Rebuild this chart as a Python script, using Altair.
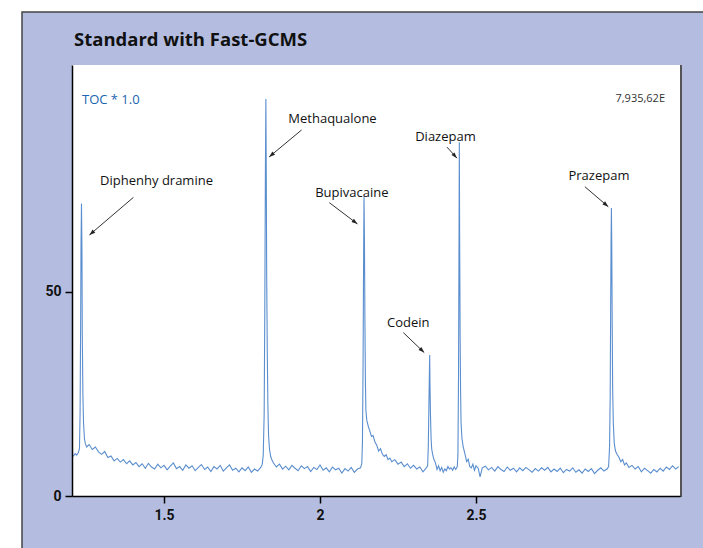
import math
import altair as alt
import pandas as pd

# ---------------- data ----------------
# chromatogram: retention time (min) and abundance (%)
rt_start = [1.205, 1.210, 1.215, 1.220, 1.225]
ab_start = [10.2, 9.8, 10.4, 10.0, 10.6]

rt_pk1 = [1.229, 1.231, 1.233, 1.234, 1.2355, 1.237, 1.238, 1.240, 1.242, 1.245, 1.248, 1.252]
ab_pk1 = [11.5, 20.0, 45.0, 62.0, 71.6, 60.0, 40.0, 25.0, 18.0, 14.0, 12.8, 12.0]

rt_base1 = [1.26, 1.27, 1.28, 1.29, 1.30, 1.31, 1.32, 1.33, 1.34, 1.35,
            1.36, 1.37, 1.38, 1.39, 1.40, 1.41, 1.42, 1.43, 1.44, 1.45,
            1.46, 1.47, 1.48, 1.49, 1.50, 1.51, 1.52, 1.53, 1.54, 1.55,
            1.56, 1.57, 1.58, 1.59, 1.60, 1.61, 1.62, 1.63, 1.64, 1.65,
            1.66, 1.67, 1.68, 1.69, 1.70, 1.71, 1.72, 1.73, 1.74, 1.75,
            1.76, 1.77, 1.78, 1.79, 1.80, 1.81]
ab_base1 = [12.6, 11.4, 12.0, 10.8, 10.2, 10.9, 9.4, 9.8, 8.6, 9.2,
            8.3, 8.9, 7.9, 8.6, 7.6, 8.2, 7.2, 7.9, 6.8, 8.0,
            7.1, 6.6, 7.8, 6.9, 7.5, 6.4, 7.3, 8.1, 6.7, 7.2,
            6.3, 7.6, 6.8, 7.4, 6.2, 7.0, 7.7, 6.5, 7.1, 6.0,
            7.2, 6.6, 7.5, 6.1, 6.9, 7.6, 6.3, 6.8, 5.9, 6.9,
            6.2, 7.1, 5.8, 6.6, 6.1, 7.0]

rt_pk2 = [1.815, 1.818, 1.821, 1.823, 1.825, 1.8265, 1.828, 1.829, 1.831, 1.833, 1.835, 1.838, 1.842, 1.846]
ab_pk2 = [7.8, 10.0, 20.0, 45.0, 80.0, 97.2, 75.0, 55.0, 35.0, 22.0, 15.0, 11.5, 9.6, 8.8]

rt_base2 = [1.85, 1.86, 1.87, 1.88, 1.89, 1.90, 1.91, 1.92, 1.93, 1.94,
            1.95, 1.96, 1.97, 1.98, 1.99, 2.00, 2.01, 2.02, 2.03, 2.04,
            2.05, 2.06, 2.07, 2.08, 2.09, 2.10, 2.11, 2.12, 2.13]
ab_base2 = [8.2, 7.1, 7.8, 6.6, 7.3, 6.4, 7.5, 6.8, 6.2, 7.4,
            6.7, 7.2, 6.0, 7.0, 6.5, 7.6, 6.3, 6.9, 5.9, 7.1,
            6.4, 6.8, 5.6, 6.7, 6.1, 7.0, 5.8, 6.6, 6.9]

rt_pk3 = [2.134, 2.136, 2.138, 2.1395, 2.141, 2.1425, 2.144, 2.1455, 2.147, 2.150, 2.155, 2.160,
          2.165, 2.170, 2.176, 2.182, 2.188, 2.194, 2.200, 2.206, 2.212, 2.218, 2.224]
ab_pk3 = [8.0, 13.0, 32.0, 55.0, 73.3, 62.0, 42.0, 28.0, 21.0, 18.5, 17.0, 15.8,
          14.6, 14.8, 13.2, 12.4, 11.0, 11.6, 10.2, 9.7, 10.1, 8.9, 9.3]

rt_base3 = [2.23, 2.24, 2.25, 2.26, 2.27, 2.28, 2.29, 2.30, 2.31, 2.32, 2.33, 2.34]
ab_base3 = [8.4, 8.9, 7.8, 8.3, 7.2, 7.9, 6.8, 7.5, 6.6, 7.1, 5.9, 6.8]

rt_pk4 = [2.345, 2.347, 2.349, 2.3505, 2.3515, 2.3525, 2.354, 2.356, 2.358, 2.361, 2.365, 2.370]
ab_pk4 = [7.4, 12.0, 22.0, 30.0, 34.5, 27.0, 20.0, 14.0, 11.5, 10.2, 9.0, 8.1]

rt_base4 = [2.375, 2.380, 2.385, 2.390, 2.395, 2.400, 2.405, 2.410, 2.415, 2.420, 2.425, 2.430, 2.435, 2.440]
ab_base4 = [6.5, 7.4, 6.2, 7.0, 5.8, 6.6, 6.2, 7.2, 6.6, 6.9, 6.3, 7.1, 6.5, 7.2]

rt_pk5 = [2.442, 2.444, 2.4455, 2.4465, 2.4475, 2.449, 2.4505, 2.452, 2.455, 2.459, 2.464]
ab_pk5 = [10.0, 30.0, 62.0, 86.6, 64.0, 40.0, 26.0, 18.0, 14.0, 12.0, 10.5]

rt_base5 = [2.470, 2.475, 2.480, 2.485, 2.490, 2.495, 2.500, 2.507, 2.513, 2.520,
            2.53, 2.54, 2.55, 2.56, 2.57, 2.58, 2.59, 2.60, 2.61, 2.62,
            2.63, 2.64, 2.65, 2.66, 2.67, 2.68, 2.69, 2.70, 2.71, 2.72,
            2.73, 2.74, 2.75, 2.76, 2.77, 2.78, 2.79, 2.80, 2.81, 2.82,
            2.83, 2.84, 2.85, 2.86, 2.87, 2.88, 2.89, 2.90, 2.91, 2.92]
ab_base5 = [8.4, 9.0, 7.2, 6.9, 7.8, 6.3, 7.4, 6.8, 4.7, 6.9,
            7.3, 6.4, 7.0, 6.1, 7.2, 6.5, 6.0, 7.1, 6.3, 6.8,
            5.9, 6.9, 6.2, 7.0, 6.4, 5.8, 6.7, 6.1, 6.9, 6.3,
            7.0, 5.9, 6.6, 6.0, 6.8, 5.7, 6.5, 6.1, 6.9, 5.8,
            6.4, 5.6, 6.6, 6.0, 6.7, 5.5, 6.3, 6.9, 6.1, 6.6]

rt_pk6 = [2.925, 2.928, 2.930, 2.9315, 2.933, 2.934, 2.935, 2.9365, 2.938, 2.940, 2.943, 2.947,
          2.952, 2.958, 2.964, 2.970, 2.976, 2.982]
ab_pk6 = [7.2, 12.0, 24.0, 45.0, 64.0, 70.5, 62.0, 42.0, 26.0, 18.0, 13.0, 11.0,
          10.2, 9.5, 8.4, 8.9, 7.6, 8.1]

rt_end = [2.99, 3.00, 3.01, 3.02, 3.03, 3.04, 3.05, 3.06, 3.07, 3.08,
          3.09, 3.10, 3.11, 3.12, 3.13, 3.14, 3.15]
ab_end = [7.0, 7.5, 6.6, 7.2, 5.9, 6.8, 6.2, 5.6, 6.5, 5.9,
          6.8, 6.1, 7.1, 6.5, 7.4, 6.6, 7.2]

# compound annotations (label anchor and arrow, in data units)
compounds = ["Diphenhy dramine", "Methaqualone", "Bupivacaine", "Codein", "Diazepam", "Prazepam"]
label_rt = [1.476, 2.040, 2.102, 2.283, 2.402, 2.894]
label_ab = [77.1, 92.2, 74.2, 42.3, 87.9, 78.3]
arrow_from_rt = [1.402, 1.941, 2.030, 2.267, 2.407, 2.849]
arrow_from_ab = [73.1, 89.6, 71.8, 40.0, 85.4, 75.7]
arrow_to_rt = [1.261, 1.837, 2.120, 2.334, 2.439, 2.924]
arrow_to_ab = [63.9, 83.0, 66.6, 35.1, 82.7, 70.8]

x_ticks = [1.5, 2.0, 2.5]
y_ticks = [0, 50]
title_text = "Standard with Fast-GCMS"
scale_text = "TOC * 1.0"
max_text = "7,935,62E"

# ---------------- build ----------------
T0, T1 = 1.2051, 3.1538
A0, A1 = 0.0, 105.5
W, H = 608, 431
FONT = "Open Sans"
AXFONT = "Roboto"
LINE = "#5b8ecf"
LAV = "#b4bde0"

rt = (rt_start + rt_pk1 + rt_base1 + rt_pk2 + rt_base2 + rt_pk3 + rt_base3 + rt_pk4
      + rt_base4 + rt_pk5 + rt_base5 + rt_pk6 + rt_end)
ab = (ab_start + ab_pk1 + ab_base1 + ab_pk2 + ab_base2 + ab_pk3 + ab_base3 + ab_pk4
      + ab_base4 + ab_pk5 + ab_base5 + ab_pk6 + ab_end)
signal = pd.DataFrame({"rt": rt, "ab": ab})

px_t = W / (T1 - T0)
px_a = H / (A1 - A0)
angles = [math.degrees(math.atan2((t2 - t1) * px_t, (a2 - a1) * px_a)) % 360
          for t1, a1, t2, a2 in zip(arrow_from_rt, arrow_from_ab, arrow_to_rt, arrow_to_ab)]
ann = pd.DataFrame({
    "name": compounds, "lt": label_rt, "la": label_ab,
    "t1": arrow_from_rt, "a1": arrow_from_ab, "t2": arrow_to_rt, "a2": arrow_to_ab,
    "ang": angles,
})

xs = alt.Scale(domain=[T0, T1], nice=False, zero=False)
ys = alt.Scale(domain=[A0, A1], nice=False, zero=False)
one = pd.DataFrame({"k": [0]})

frame = alt.Chart(one).mark_rect(fill=LAV, stroke="#444444", strokeWidth=1.5).encode(
    x=alt.value(-50), x2=alt.value(W + 200), y=alt.value(-53), y2=alt.value(H + 200))
plotbg = alt.Chart(one).mark_rect(fill="white").encode(
    x=alt.value(0), x2=alt.value(W), y=alt.value(0), y2=alt.value(H))
shadow = alt.Chart(one).mark_rule(color="#555555", strokeWidth=2).encode(
    x=alt.value(W + 1), y=alt.value(0), y2=alt.value(H + 1))

line = alt.Chart(signal).mark_line(color=LINE, strokeWidth=1.1, clip=True).encode(
    x=alt.X("rt:Q", scale=xs,
            axis=alt.Axis(values=x_ticks, format=".1~f", title=None, grid=False,
                          tickSize=7, labelPadding=5, zindex=1)),
    y=alt.Y("ab:Q", scale=ys,
            axis=alt.Axis(values=y_ticks, title=None, grid=False,
                          tickSize=7, labelPadding=4, zindex=1)),
)

arrows = alt.Chart(ann).mark_rule(color="#333333", strokeWidth=1).encode(
    x="t1:Q", y="a1:Q", x2="t2:Q", y2="a2:Q")
heads = alt.Chart(ann).mark_point(
    shape="M0,0L-0.55,1.6L0.55,1.6Z", filled=True, color="#222222", size=55, opacity=1
).encode(x="t2:Q", y="a2:Q", angle=alt.Angle("ang:Q", scale=None))
labels = alt.Chart(ann).mark_text(
    font=FONT, fontSize=13, fontWeight="normal", color="#111111", align="center", baseline="middle"
).encode(x="lt:Q", y="la:Q", text="name:N")

title = alt.Chart(pd.DataFrame({"s": [title_text]})).mark_text(
    font=FONT, fontSize=18.5, fontWeight="bold", color="#111111", align="left", baseline="alphabetic"
).encode(x=alt.value(2), y=alt.value(-19), text="s:N")
toc = alt.Chart(pd.DataFrame({"s": [scale_text]})).mark_text(
    font=FONT, fontSize=13, fontWeight="normal", color="#1a64b0", align="left", baseline="alphabetic"
).encode(x=alt.value(10), y=alt.value(39), text="s:N")
maxv = alt.Chart(pd.DataFrame({"s": [max_text]})).mark_text(
    font=FONT, fontSize=11, color="#333333", align="right", baseline="alphabetic"
).encode(x=alt.value(593), y=alt.value(37), text="s:N")

chart = alt.layer(frame, plotbg, line, arrows, heads, labels, title, toc, maxv, shadow).properties(
    width=W, height=H,
    autosize=alt.AutoSizeParams(type="none"),
    padding={"left": 72, "top": 65, "right": 23, "bottom": 52},
    background="white",
).configure_view(
    stroke="#3c3c3c", strokeWidth=1.5
).configure_axis(
    domainColor="#000000", domainWidth=1.5, tickColor="#000000", tickWidth=1.5,
    labelFont=AXFONT, labelFontSize=14, labelFontWeight="bold", labelColor="#111111",
)

chart.save("out.html", embed_options={"renderer": "svg", "actions": False})
